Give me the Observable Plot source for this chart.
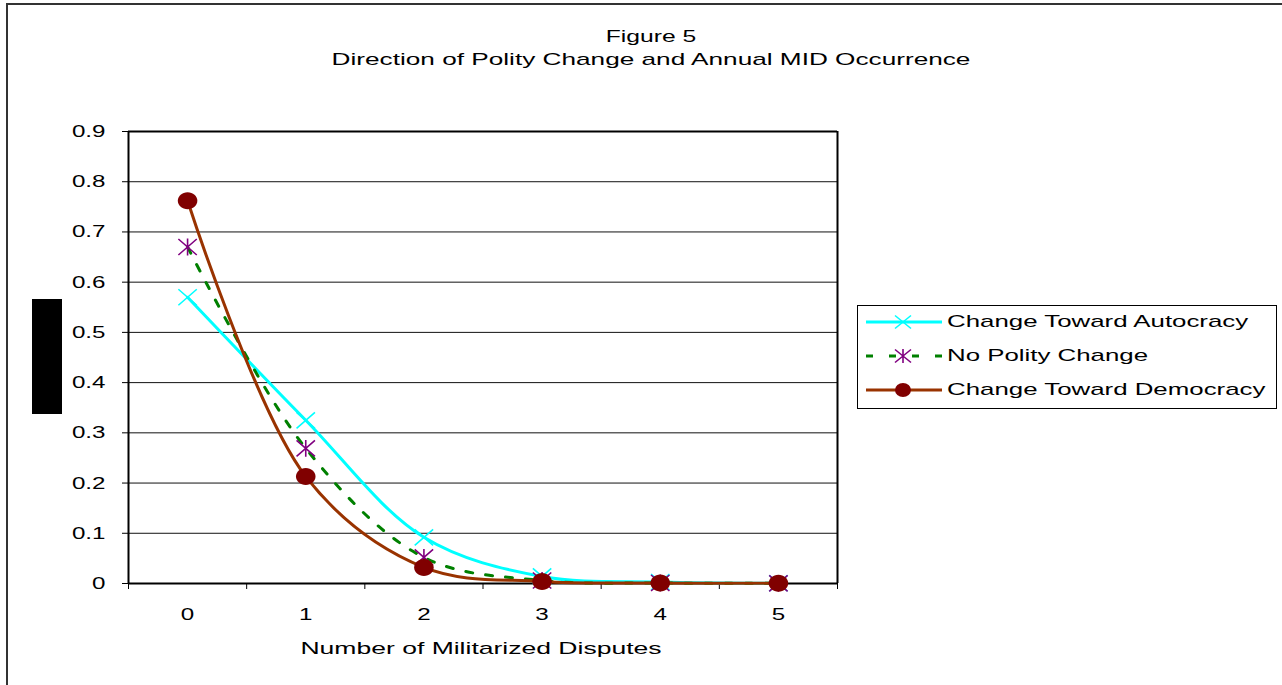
<!DOCTYPE html>
<html><head><meta charset="utf-8">
<script src="https://cdn.jsdelivr.net/npm/d3@7"></script>
<script src="https://cdn.jsdelivr.net/npm/@observablehq/plot@0.6"></script>
<style>
body{margin:0;background:#fff;font-family:"Liberation Sans",Arial,sans-serif;}
#wrap{position:relative;width:1282px;height:685px;overflow:hidden;background:#fff;}
#frame{position:absolute;left:6px;top:3px;width:1400px;height:800px;border:2px solid #333;}
#chart{position:absolute;left:0;top:0;}
#blk{position:absolute;left:32px;top:299px;width:30px;height:115px;background:#000;}
.t{position:absolute;white-space:nowrap;font-size:17px;line-height:20px;color:#000;}
#legend{position:absolute;left:857px;top:305px;width:418px;height:102px;border:1px solid #000;background:#fff;}
.row{position:absolute;left:0;height:20px;}
.row svg{position:absolute;left:7px;top:0;}
.row span{position:absolute;left:89px;top:0;font-size:17px;line-height:20px;white-space:nowrap;transform-origin:0 50%;transform:scaleX(1.52);}
</style>
</head><body>
<div id="wrap">
  <div id="frame"></div>
  <div id="blk"></div>
  <div id="chart"></div>
  <div class="t" id="t1" style="left:651px;top:27px;transform:translateX(-50%) scaleX(1.45);">Figure 5</div>
  <div class="t" id="t2" style="left:651px;top:50px;transform:translateX(-50%) scaleX(1.54);">Direction of Polity Change and Annual MID Occurrence</div>
  <div class="t" id="xt" style="left:481px;top:639px;transform:translateX(-50%) scaleX(1.56);">Number of Militarized Disputes</div>
  <div id="legend"></div>
</div>
<script>
// ---- data ----
const disputes = [0, 1, 2, 3, 4, 5];
const autocracy = [0.570, 0.325, 0.092, 0.014, 0.003, 0.0005];
const noChange = [0.670, 0.269, 0.052, 0.006, 0.001, 0.0003];
const democracy = [0.762, 0.213, 0.032, 0.004, 0.001, 0.0003];
const seriesNames = ["Change Toward Autocracy", "No Polity Change", "Change Toward Democracy"];
const yTicks = [0, 0.1, 0.2, 0.3, 0.4, 0.5, 0.6, 0.7, 0.8, 0.9];
const xTickLabels = ["0", "1", "2", "3", "4", "5"];
const xBounds = [-0.5, 0.5, 1.5, 2.5, 3.5, 4.5, 5.5];

const lineColors = ["#00FFFF", "#008000", "#993300"];
const markerColors = ["#00FFFF", "#800080", "#800000"];

// custom symbols (horizontally stretched like the source)
const SX = 1.15;
const timesSym = {draw(ctx, size){ const r = Math.sqrt(size/Math.PI); const hx = r*SX, hy = r;
  ctx.moveTo(-hx,-hy); ctx.lineTo(hx,hy); ctx.moveTo(-hx,hy); ctx.lineTo(hx,-hy); }};
const asteriskSym = {draw(ctx, size){ const r = Math.sqrt(size/Math.PI); const hx = r*SX, hy = r;
  ctx.moveTo(-hx,-hy); ctx.lineTo(hx,hy); ctx.moveTo(-hx,hy); ctx.lineTo(hx,-hy);
  ctx.moveTo(0,-hy*1.05); ctx.lineTo(0,hy*1.05); }};
const ellipseSym = {draw(ctx, size){ const r = Math.sqrt(size/Math.PI); const a = r*SX, b = r, k = 0.5523;
  ctx.moveTo(a,0);
  ctx.bezierCurveTo(a, b*k, a*k, b, 0, b);
  ctx.bezierCurveTo(-a*k, b, -a, b*k, -a, 0);
  ctx.bezierCurveTo(-a, -b*k, -a*k, -b, 0, -b);
  ctx.bezierCurveTo(a*k, -b, a, -b*k, a, 0);
  ctx.closePath(); }};

const mk = (vals, name) => disputes.map((d, i) => ({x: d, y: vals[i], series: name}));
const dA = mk(autocracy, seriesNames[0]);
const dN = mk(noChange, seriesNames[1]);
const dD = mk(democracy, seriesNames[2]);

const font = "Liberation Sans, Arial, sans-serif";
const chart = Plot.plot({
  width: 1282, height: 685,
  marginLeft: 128, marginRight: 445, marginTop: 131, marginBottom: 102,
  style: {fontFamily: font, fontSize: "17px", background: "transparent", color: "#000"},
  x: {type: "linear", domain: [-0.5, 5.5]},
  y: {domain: [0, 0.9]},
  marks: [
    Plot.ruleY(yTicks.filter(d => d > 0 && d < 0.9), {stroke: "#111", strokeWidth: 1}),
    Plot.ruleY([0, 0.9], {stroke: "#000", strokeWidth: 2}),
    Plot.ruleX([-0.5, 5.5], {y1: 0, y2: 0.9, stroke: "#000", strokeWidth: 2}),
    Plot.axisY(yTicks, {tickSize: 6, tickPadding: 17, label: null, stroke: "#000",
      tickFormat: d => d === 0 ? "0" : d.toFixed(1)}),
    Plot.axisX(xBounds, {tickSize: 6, label: null, stroke: "#000", tickFormat: () => ""}),
    Plot.axisX(disputes, {tickSize: 0, tickPadding: 24, label: null, tickFormat: (d, i) => xTickLabels[i]}),
    // Autocracy
    Plot.line(dA, {x: "x", y: "y", stroke: lineColors[0], strokeWidth: 3, curve: "catmull-rom"}),
    Plot.dot(dA, {x: "x", y: "y", symbol: timesSym, r: 8, stroke: markerColors[0], strokeWidth: 1.6, fill: "none"}),
    // No change
    Plot.line(dN, {x: "x", y: "y", stroke: lineColors[1], strokeWidth: 3, strokeDasharray: "7,13", curve: "catmull-rom"}),
    Plot.dot(dN, {x: "x", y: "y", symbol: asteriskSym, r: 8, stroke: markerColors[1], strokeWidth: 1.6, fill: "none"}),
    // Democracy
    Plot.line(dD, {x: "x", y: "y", stroke: lineColors[2], strokeWidth: 3, curve: "catmull-rom"}),
    Plot.dot(dD, {x: "x", y: "y", symbol: ellipseSym, r: 8.5, fill: markerColors[2], stroke: "none"})
  ]
});
document.getElementById("chart").appendChild(chart);

// stretch tick label glyphs horizontally like the source (keeps anchors)
chart.querySelectorAll("text").forEach(t => {
  if (!t.textContent) return;
  const w = t.getComputedTextLength();
  if (w > 0) {
    t.setAttribute("textLength", (w * 1.42).toFixed(2));
    t.setAttribute("lengthAdjust", "spacingAndGlyphs");
  }
});

// legend
const legend = document.getElementById("legend");
const rowsY = [6, 40, 74];
const sw = [
  `<line x1="1" y1="10" x2="77" y2="10" stroke="${lineColors[0]}" stroke-width="3"/>
   <path d="M30,3.5L46,16.5M30,16.5L46,3.5" stroke="${markerColors[0]}" stroke-width="1.6"/>`,
  `<line x1="1" y1="10" x2="77" y2="10" stroke="${lineColors[1]}" stroke-width="3" stroke-dasharray="7,16"/>
   <path d="M30,3.5L46,16.5M30,16.5L46,3.5M38,3L38,17" stroke="${markerColors[1]}" stroke-width="1.6"/>`,
  `<line x1="1" y1="10" x2="77" y2="10" stroke="${lineColors[2]}" stroke-width="3"/>
   <ellipse cx="38" cy="10" rx="8" ry="7" fill="${markerColors[2]}"/>`
];
seriesNames.forEach((name, i) => {
  const row = document.createElement("div");
  row.className = "row";
  row.style.top = rowsY[i] + "px";
  row.innerHTML = `<svg width="80" height="20">${sw[i]}</svg><span>${name}</span>`;
  legend.appendChild(row);
});
</script>
</body></html>
